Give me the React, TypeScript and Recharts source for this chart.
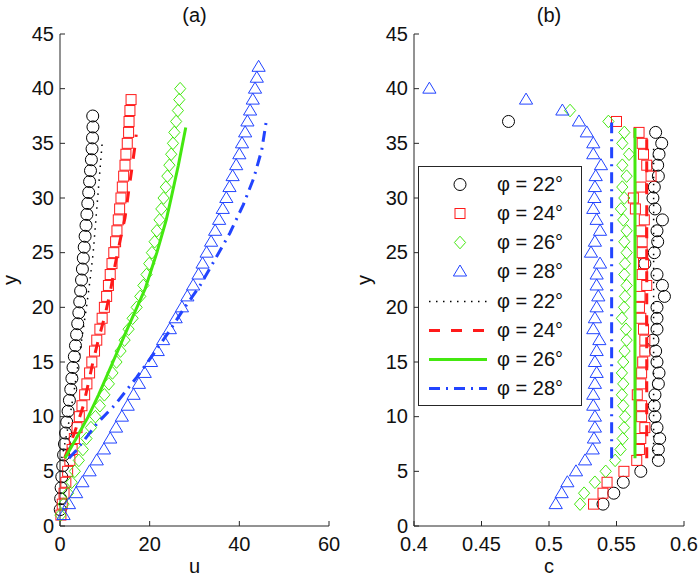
import { Legend, Scatter, ScatterChart, XAxis, YAxis } from "recharts";

const FONT = '"Liberation Sans", Arial, Helvetica, sans-serif';
const AXIS = "#262626";
const TEXT = "#111111";
const TICK_LEN = 5;

const Y_TICKS = [0, 5, 10, 15, 20, 25, 30, 35, 40, 45];
const U_TICKS = [0, 20, 40, 60];
const C_TICKS = [0.4, 0.45, 0.5, 0.55, 0.6];

// ---- panel (a): measured u against y ----
const Y_A_22 = [
  1.5, 2.5, 3.5, 4.5, 5.5, 6.5, 7.5, 8.5, 9.5, 10.5, 11.5, 12.5, 13.5, 14.5,
  15.5, 16.5, 17.5, 18.5, 19.5, 20.5, 21.5, 22.5, 23.5, 24.5, 25.5, 26.5, 27.5,
  28.5, 29.5, 30.5, 31.5, 32.5, 33.5, 34.5, 35.5, 36.5, 37.5,
];
const U_22 = [
  0.05, 0.15, 0.25, 0.4, 0.6, 0.8, 1.0, 1.25, 1.5, 1.8, 2.1, 2.4, 2.65, 2.9,
  3.2, 3.45, 3.7, 3.95, 4.2, 4.4, 4.6, 4.8, 5.0, 5.2, 5.4, 5.6, 5.8, 6.0, 6.2,
  6.4, 6.6, 6.8, 7.0, 7.15, 7.25, 7.35, 7.3,
];
const Y_A_24 = [
  1, 2, 3, 4, 5, 6, 7, 8, 9, 10, 11, 12, 13, 14, 15, 16, 17, 18, 19, 20, 21,
  22, 23, 24, 25, 26, 27, 28, 29, 30, 31, 32, 33, 34, 35, 36, 37, 38, 39,
];
const U_24 = [
  0.2, 0.5, 0.9, 1.3, 1.7, 2.2, 2.7, 3.2, 3.8, 4.3, 4.9, 5.5, 6.0, 6.6, 7.1,
  7.7, 8.2, 8.9, 9.4, 9.9, 10.4, 10.8, 11.2, 11.6, 12.0, 12.4, 12.7, 13.0,
  13.3, 13.6, 13.9, 14.2, 14.5, 14.7, 15.0, 15.3, 15.4, 15.6, 15.85,
];
const Y_A_26 = [
  1, 2, 3, 4, 5, 6, 7, 8, 9, 10, 11, 12, 13, 14, 15, 16, 17, 18, 19, 20, 21,
  22, 23, 24, 25, 26, 27, 28, 29, 30, 31, 32, 33, 34, 35, 36, 37, 38, 39, 40,
];
const U_26 = [
  0.1, 0.8, 1.8, 2.6, 3.3, 4.2, 5.1, 5.9, 6.9, 7.9, 8.9, 9.9, 10.9, 11.7,
  12.6, 13.5, 14.4, 15.3, 16.2, 17.1, 17.9, 18.6, 19.3, 19.9, 20.5, 21.1,
  21.6, 22.2, 22.6, 23.1, 23.6, 23.95, 24.4, 24.8, 25.2, 25.5, 25.9, 26.3,
  26.6, 26.8,
];
const Y_A_28 = [
  1, 2, 3, 4, 5, 6, 7, 8, 9, 10, 11, 12, 13, 14, 15, 16, 17, 18, 19, 20, 21,
  22, 23, 24, 25, 26, 27, 28, 29, 30, 31, 32, 33, 34, 35, 36, 37, 38, 39, 40,
  41, 42,
];
const U_28 = [
  0.8, 2.0, 3.6, 5.0, 6.6, 8.2, 9.8, 11.2, 12.5, 13.8, 15.1, 16.4, 17.6, 18.9,
  20.3, 21.8, 23.0, 24.5, 25.8, 27.2, 28.4, 29.7, 30.9, 31.8, 32.7, 33.7,
  34.6, 35.5, 36.3, 37.1, 37.8, 38.5, 39.3, 40.0, 40.6, 41.3, 41.8, 42.4,
  43.0, 43.5, 43.9, 44.3,
];

// ---- panel (a): model curves ----
const MY_22 = [6.2, 8, 10, 12.5, 15, 17.5, 20, 22.5, 25, 27.5, 30, 32.5, 35];
const MU_22 = [0.4, 1.3, 2.2, 3.2, 4.1, 5.0, 5.9, 6.7, 7.4, 7.9, 8.4, 8.9, 9.4];
const MY_24 = [6.2, 8.6, 11, 13, 15.1, 17.1, 19.2, 21.4, 23.9, 26.1, 28.2, 30.3, 32.6, 34.7, 35.8];
const MU_24 = [1.0, 3.3, 5.2, 6.3, 7.4, 8.6, 10.0, 11.2, 12.3, 13.4, 14.5, 15.2, 16.0, 16.7, 17.0];
const MY_26 = [6.2, 8, 10, 12, 15, 18, 21.7, 25, 28, 30.2, 33, 36.45];
const MU_26 = [1.1, 3.6, 6.3, 8.6, 11.8, 15.0, 19.0, 21.6, 23.7, 24.9, 26.4, 28.05];
const MY_28 = [6.2, 6.9, 9.4, 11.1, 13.6, 15.7, 17.7, 19.8, 22.0, 24.4, 26.8, 29.4, 31.8, 34.4, 37.0];
const MU_28 = [2.0, 3.6, 8.3, 12.3, 17.1, 20.8, 24.2, 27.5, 31.25, 34.6, 37.9, 40.9, 43.2, 45.0, 46.0];

// ---- panel (b): measured c against y ----
const Y_B_22 = [
  2, 3, 4, 5, 6, 7, 8, 9, 10, 11, 12, 13, 14, 15, 16, 17, 18, 19, 20, 21, 22,
  23, 24, 25, 26, 27, 28, 29, 30, 31, 32, 33, 34, 35, 36, 37,
];
const C_22 = [
  0.54, 0.548, 0.555, 0.568, 0.581, 0.581, 0.582, 0.58, 0.5785, 0.578, 0.5785,
  0.581, 0.5815, 0.58, 0.579, 0.577, 0.58, 0.58, 0.58, 0.5855, 0.584, 0.58,
  0.571, 0.578, 0.5805, 0.58, 0.584, 0.5785, 0.577, 0.578, 0.581, 0.5805,
  0.5815, 0.5835, 0.579, 0.47,
];
const Y_B_24 = [
  2, 3, 4, 5, 6, 7, 8, 9, 10, 11, 12, 13, 14, 15, 16, 17, 18, 19, 20, 21, 22,
  23, 24, 25, 26, 27, 28, 29, 30, 31, 32, 33, 34, 35, 36, 37,
];
const C_24 = [
  0.533, 0.54, 0.543, 0.5555, 0.565, 0.567, 0.568, 0.571, 0.5686, 0.5686,
  0.5654, 0.568, 0.5686, 0.5694, 0.571, 0.571, 0.57, 0.568, 0.567, 0.5674,
  0.5724, 0.569, 0.57, 0.569, 0.569, 0.568, 0.5706, 0.564, 0.5625, 0.568,
  0.5756, 0.5724, 0.57, 0.569, 0.5667, 0.55,
];
const Y_B_26 = [
  2, 3, 4, 5, 6, 7, 8, 9, 10, 11, 12, 13, 14, 15, 16, 17, 18, 19, 20, 21, 22,
  23, 24, 25, 26, 27, 28, 29, 30, 31, 32, 33, 34, 35, 36, 37, 38,
];
const C_26 = [
  0.523, 0.526, 0.534, 0.542, 0.549, 0.553, 0.5546, 0.5556, 0.5563, 0.555,
  0.554, 0.555, 0.554, 0.555, 0.556, 0.5575, 0.557, 0.554, 0.5556, 0.5563,
  0.5575, 0.5558, 0.5563, 0.5575, 0.5558, 0.5575, 0.555, 0.5533, 0.5558,
  0.5543, 0.5575, 0.5543, 0.5593, 0.5543, 0.5558, 0.544, 0.5156,
];
const Y_B_28 = [
  2, 3, 4, 5, 6, 7, 8, 9, 10, 11, 12, 13, 14, 15, 16, 17, 18, 19, 20, 21, 22,
  23, 24, 25, 26, 27, 28, 29, 30, 31, 32, 33, 34, 35, 36, 37, 38, 39, 40,
];
const C_28 = [
  0.505, 0.5094, 0.5136, 0.52, 0.5267, 0.5324, 0.5333, 0.534, 0.534, 0.5328,
  0.5328, 0.534, 0.5353, 0.534, 0.5353, 0.5373, 0.5328, 0.534, 0.5353,
  0.5365, 0.5353, 0.5353, 0.5378, 0.5311, 0.534, 0.5378, 0.5353, 0.5328,
  0.5336, 0.534, 0.5346, 0.5385, 0.5328, 0.5328, 0.528, 0.5222, 0.5099,
  0.483, 0.4114,
];

// ---- panel (b): model values (constant c over the column) ----
const MC_22 = [0.5775, 0.5775];
const MCY_22 = [6.2, 35.0];
const MC_24 = [0.5724, 0.5724];
const MCY_24 = [6.2, 35.8];
const MC_26 = [0.5637, 0.5637];
const MCY_26 = [6.2, 36.4];
const MC_28 = [0.5464, 0.5464];
const MCY_28 = [6.2, 36.9];

type Pt = { x: number; y: number };
type MarkerKind = "circle" | "square" | "diamond" | "triangle";

const pts = (xs: number[], ys: number[]): Pt[] =>
  xs.map((x, i) => ({ x, y: ys[i] }));

const STYLE = [
  { phi: 22, color: "#000000", marker: "circle" as MarkerKind, width: 1.5, dash: "1.5 5.5" },
  { phi: 24, color: "#ff1a1a", marker: "square" as MarkerKind, width: 3, dash: "11 11" },
  { phi: 26, color: "#44e810", marker: "diamond" as MarkerKind, width: 3, dash: undefined },
  { phi: 28, color: "#2244ff", marker: "triangle" as MarkerKind, width: 3, dash: "11 6 2 6" },
];

function drawMarker(kind: MarkerKind, color: string, cx: number, cy: number) {
  const common = { fill: "none", stroke: color, strokeWidth: 1 };
  switch (kind) {
    case "circle":
      return <circle cx={cx} cy={cy} r={6} {...common} />;
    case "square":
      return <rect x={cx - 5} y={cy - 5} width={10} height={10} {...common} />;
    case "diamond":
      return (
        <polygon
          points={`${cx},${cy - 6.3} ${cx + 5.6},${cy} ${cx},${cy + 6.3} ${cx - 5.6},${cy}`}
          {...common}
        />
      );
    default:
      return (
        <polygon
          points={`${cx},${cy - 6.5} ${cx + 6.6},${cy + 4.5} ${cx - 6.6},${cy + 4.5}`}
          {...common}
        />
      );
  }
}

const markerShape = (kind: MarkerKind, color: string) => (props: unknown) => {
  const p = props as { cx?: number; cy?: number };
  if (p.cx == null || p.cy == null) return <g />;
  return drawMarker(kind, color, p.cx, p.cy);
};

const noShape = () => <g />;

function XTick(props: any) {
  const { x, y, payload } = props;
  return (
    <g>
      <line x1={x} x2={x} y1={y} y2={y - TICK_LEN} stroke={AXIS} />
      <text x={x} y={y + 24.5} textAnchor="middle" fontSize={20} fontFamily={FONT} fill={TEXT}>
        {String(payload.value)}
      </text>
    </g>
  );
}

function YTick(props: any) {
  const { x, y, payload } = props;
  return (
    <g>
      <line x1={x} x2={x + TICK_LEN} y1={y} y2={y} stroke={AXIS} />
      <text x={x - 6} y={y + 6.5} textAnchor="end" fontSize={20} fontFamily={FONT} fill={TEXT}>
        {String(payload.value)}
      </text>
    </g>
  );
}

const xLabel = (text: string) => ({
  content: (props: any) => {
    const vb = props.viewBox;
    return (
      <text x={vb.x + vb.width / 2} y={vb.y + 47} textAnchor="middle" fontSize={20} fontFamily={FONT} fill={TEXT}>
        {text}
      </text>
    );
  },
});

const yLabel = (text: string) => ({
  content: (props: any) => {
    const vb = props.viewBox;
    const x = vb.x + vb.width - 43;
    const y = vb.y + vb.height / 2;
    return (
      <text x={x} y={y} transform={`rotate(-90 ${x} ${y})`} textAnchor="middle" fontSize={20} fontFamily={FONT} fill={TEXT}>
        {text}
      </text>
    );
  },
});

function LegendBox() {
  return (
    <div
      style={{
        width: 164,
        height: 240,
        boxSizing: "border-box",
        border: `1px solid ${AXIS}`,
        background: "#fff",
        paddingTop: 2.4,
        fontFamily: FONT,
        fontSize: 20,
        color: TEXT,
      }}
    >
      {STYLE.map((s) => (
        <div key={`m${s.phi}`} style={{ display: "flex", alignItems: "center", height: 29.25 }}>
          <svg width={78} height={29} style={{ flex: "none" }}>
            {drawMarker(s.marker, s.color, 41, 14.5)}
          </svg>
          <span>φ = {s.phi}°</span>
        </div>
      ))}
      {STYLE.map((s) => (
        <div key={`l${s.phi}`} style={{ display: "flex", alignItems: "center", height: 29.25 }}>
          <svg width={78} height={29} style={{ flex: "none" }}>
            <line x1={10} x2={68} y1={14.5} y2={14.5} stroke={s.color} strokeWidth={s.width} strokeDasharray={s.dash} />
          </svg>
          <span>φ = {s.phi}°</span>
        </div>
      ))}
    </div>
  );
}

const A_MEASURED = [pts(U_22, Y_A_22), pts(U_24, Y_A_24), pts(U_26, Y_A_26), pts(U_28, Y_A_28)];
const A_MODEL = [pts(MU_22, MY_22), pts(MU_24, MY_24), pts(MU_26, MY_26), pts(MU_28, MY_28)];
const B_MEASURED = [pts(C_22, Y_B_22), pts(C_24, Y_B_24), pts(C_26, Y_B_26), pts(C_28, Y_B_28)];
const B_MODEL = [pts(MC_22, MCY_22), pts(MC_24, MCY_24), pts(MC_26, MCY_26), pts(MC_28, MCY_28)];

function series(measured: Pt[][], model: Pt[][]) {
  return [
    ...STYLE.map((s, i) => (
      <Scatter
        key={`m${s.phi}`}
        data={measured[i]}
        fill={s.color}
        shape={markerShape(s.marker, s.color)}
        isAnimationActive={false}
      />
    )),
    ...STYLE.map((s, i) => (
      <Scatter
        key={`l${s.phi}`}
        data={model[i]}
        fill={s.color}
        line={{ stroke: s.color, strokeWidth: s.width, strokeDasharray: s.dash }}
        shape={noShape}
        isAnimationActive={false}
      />
    )),
  ];
}

function Title({ text, center }: { text: string; center: number }) {
  return (
    <div
      style={{
        position: "absolute",
        left: center - 50,
        top: 4.6,
        width: 100,
        textAlign: "center",
        fontFamily: FONT,
        fontSize: 20,
        lineHeight: "20px",
        color: TEXT,
      }}
    >
      {text}
    </div>
  );
}

export default function App() {
  return (
    <div style={{ position: "absolute", left: 0, top: 0, width: 700, height: 579, background: "#fff" }}>
      <div style={{ position: "absolute", left: 0, top: 0 }}>
        <ScatterChart width={350} height={579} margin={{ top: 34, right: 21, bottom: 23, left: 0 }}>
          <XAxis
            type="number"
            dataKey="x"
            domain={[0, 60]}
            ticks={U_TICKS}
            height={30}
            tickSize={0}
            tickMargin={0}
            tickLine={false}
            tick={(p: any) => <XTick {...p} />}
            axisLine={{ stroke: AXIS }}
            label={xLabel("u")}
          />
          <YAxis
            type="number"
            dataKey="y"
            domain={[0, 45]}
            ticks={Y_TICKS}
            width={60}
            tickSize={0}
            tickMargin={0}
            tickLine={false}
            tick={(p: any) => <YTick {...p} />}
            axisLine={{ stroke: AXIS }}
            label={yLabel("y")}
          />
          {series(A_MEASURED, A_MODEL)}
        </ScatterChart>
      </div>
      <div style={{ position: "absolute", left: 350, top: 0 }}>
        <ScatterChart width={350} height={579} margin={{ top: 34, right: 16, bottom: 23, left: 0 }}>
          <XAxis
            type="number"
            dataKey="x"
            domain={[0.4, 0.6]}
            ticks={C_TICKS}
            height={30}
            tickSize={0}
            tickMargin={0}
            tickLine={false}
            tick={(p: any) => <XTick {...p} />}
            axisLine={{ stroke: AXIS }}
            label={xLabel("c")}
          />
          <YAxis
            type="number"
            dataKey="y"
            domain={[0, 45]}
            ticks={Y_TICKS}
            width={64}
            tickSize={0}
            tickMargin={0}
            tickLine={false}
            tick={(p: any) => <YTick {...p} />}
            axisLine={{ stroke: AXIS }}
            label={yLabel("y")}
          />
          {series(B_MEASURED, B_MODEL)}
          <Legend
            layout="horizontal"
            verticalAlign="middle"
            align="center"
            content={() => <LegendBox />}
            wrapperStyle={{ position: "absolute", left: 68, top: 166, width: 164, height: 240 }}
          />
        </ScatterChart>
      </div>
      <Title text="(a)" center={194.5} />
      <Title text="(b)" center={549} />
    </div>
  );
}
